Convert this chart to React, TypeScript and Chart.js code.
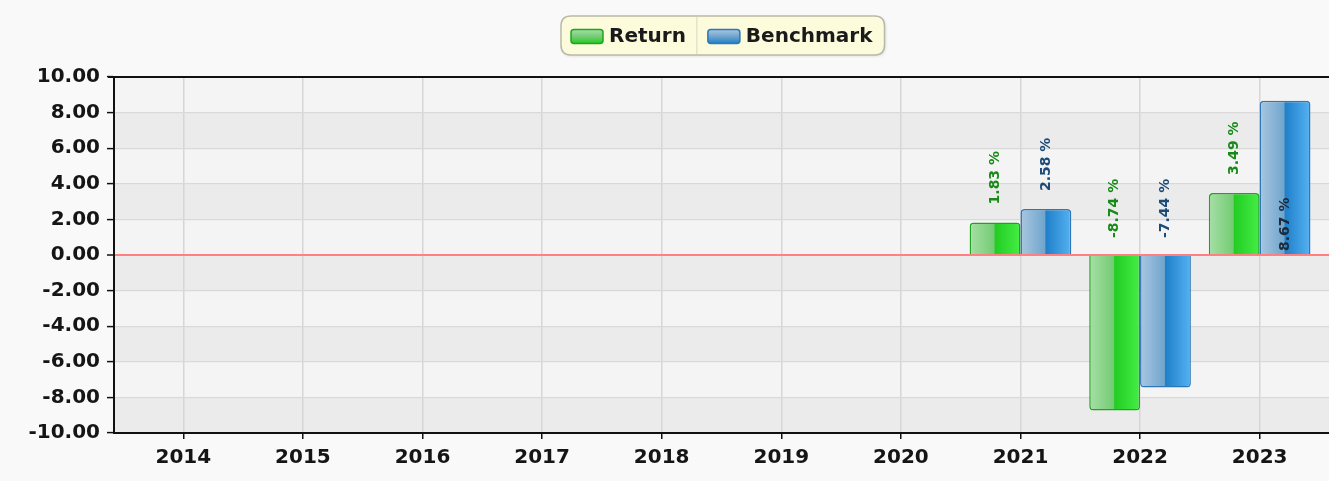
import React, { useEffect, useRef } from "react";
import { Chart, registerables } from "chart.js";

Chart.register(...registerables);

const years = [2014, 2015, 2016, 2017, 2018, 2019, 2020, 2021, 2022, 2023];
const returnValues: (number | null)[] = [null, null, null, null, null, null, null, 1.83, -8.74, 3.49];
const benchmarkValues: (number | null)[] = [null, null, null, null, null, null, null, 2.58, -7.44, 8.67];
const seriesNames = ["Return", "Benchmark"];
const yTicks = [-10, -8, -6, -4, -2, 0, 2, 4, 6, 8, 10];

const FONT = "'DejaVu Sans', Verdana, sans-serif";
const CAT_PCT = 0.85;

const palettes = [
  { stops: ["#a6dfa6", "#74cc74", "#22cc22", "#44ee44"], border: "#1ea51e", label: "#178a17", solid: "#44cc44" },
  { stops: ["#a9c7e0", "#70a5cd", "#1f7fc9", "#55b2f2"], border: "#2d76b8", label: "#1d4b78", solid: "#4a90d0" },
];

function barFill(ctx: any) {
  const pal = palettes[ctx.datasetIndex] || palettes[0];
  const chart = ctx.chart;
  const xs = chart.scales && chart.scales.x;
  if (ctx.type !== "data" || !ctx.parsed || !xs || xs.width == null) return pal.solid;
  const c = xs.getPixelForValue(ctx.parsed.x);
  const step = xs.getPixelForValue(ctx.parsed.x + 1) - c;
  const w = (step * CAT_PCT) / 2;
  const x0 = ctx.datasetIndex === 0 ? c - w : c;
  const g = chart.ctx.createLinearGradient(x0, 0, x0 + w, 0);
  g.addColorStop(0, pal.stops[0]);
  g.addColorStop(0.48, pal.stops[1]);
  g.addColorStop(0.5, pal.stops[2]);
  g.addColorStop(1, pal.stops[3]);
  return g;
}

function roundRect(c: CanvasRenderingContext2D, x: number, y: number, w: number, h: number, r: number) {
  c.beginPath();
  c.moveTo(x + r, y);
  c.lineTo(x + w - r, y);
  c.quadraticCurveTo(x + w, y, x + w, y + r);
  c.lineTo(x + w, y + h - r);
  c.quadraticCurveTo(x + w, y + h, x + w - r, y + h);
  c.lineTo(x + r, y + h);
  c.quadraticCurveTo(x, y + h, x, y + h - r);
  c.lineTo(x, y + r);
  c.quadraticCurveTo(x, y, x + r, y);
  c.closePath();
}

const decorPlugin = {
  id: "decor",
  beforeDraw(chart: any) {
    const c = chart.ctx;
    const { left, right } = chart.chartArea;
    const ys = chart.scales.y;
    c.save();
    c.fillStyle = "#f9f9f9";
    c.fillRect(0, 0, chart.width, chart.height);
    for (let i = 0; i < yTicks.length - 1; i++) {
      const a = ys.getPixelForValue(yTicks[i]);
      const b = ys.getPixelForValue(yTicks[i + 1]);
      c.fillStyle = i % 2 === 0 ? "#ebebeb" : "#f4f4f4";
      c.fillRect(left, b, right - left, a - b);
    }
    c.restore();
  },
  afterDatasetsDraw(chart: any) {
    const c = chart.ctx;
    const area = chart.chartArea;
    c.save();
    c.strokeStyle = "#111";
    c.lineWidth = 2;
    c.beginPath();
    c.moveTo(area.left - 6, area.top);
    c.lineTo(area.right, area.top);
    c.stroke();
    c.font = `bold 14px ${FONT}`;
    chart.data.datasets.forEach((ds: any, di: number) => {
      const meta = chart.getDatasetMeta(di);
      meta.data.forEach((el: any, i: number) => {
        const v = ds.data[i].y;
        if (v == null) return;
        const text = `${v.toFixed(2)} %`;
        const tw = c.measureText(text).width;
        const topPx = Math.min(el.y, el.base);
        let start = topPx - 18;
        let color = palettes[di].label;
        if (start - tw < area.top) {
          start = el.base - 3;
          color = "#1c2a3a";
        }
        c.save();
        c.translate(el.x, start);
        c.rotate(-Math.PI / 2);
        c.fillStyle = color;
        c.textAlign = "left";
        c.textBaseline = "middle";
        c.fillText(text, 0, 0);
        c.restore();
      });
    });
    c.restore();
  },
  afterDraw(chart: any) {
    const c = chart.ctx;
    c.save();
    c.font = `bold 20px ${FONT}`;
    const boxX = 561;
    const boxY = 16;
    const boxH = 39;
    const swW = 32;
    const swH = 14;
    const items: { x: number; w: number }[] = [];
    let x = boxX + 10;
    seriesNames.forEach((name, i) => {
      const tw = c.measureText(name).width;
      const w = swW + 6 + tw;
      items.push({ x, w });
      x += w + (i < seriesNames.length - 1 ? 22 : 12);
    });
    const boxW = x - boxX;
    c.shadowColor = "rgba(0,0,0,0.15)";
    c.shadowBlur = 3;
    c.shadowOffsetX = 1;
    c.shadowOffsetY = 1;
    roundRect(c, boxX, boxY, boxW, boxH, 10);
    c.fillStyle = "#fcfcdc";
    c.fill();
    c.shadowColor = "transparent";
    c.lineWidth = 1.5;
    c.strokeStyle = "#b9b9a8";
    c.stroke();
    seriesNames.forEach((name, i) => {
      const it = items[i];
      const pal = palettes[i];
      const sy = boxY + boxH / 2 - swH / 2 + 1;
      const g = c.createLinearGradient(0, sy, 0, sy + swH);
      g.addColorStop(0, pal.stops[0]);
      g.addColorStop(0.5, pal.stops[1]);
      g.addColorStop(1, pal.stops[2]);
      roundRect(c, it.x, sy, swW, swH, 3);
      c.fillStyle = g;
      c.fill();
      c.lineWidth = 1.5;
      c.strokeStyle = pal.border;
      c.stroke();
      c.fillStyle = "#1a1a1a";
      c.textAlign = "left";
      c.textBaseline = "middle";
      c.fillText(name, it.x + swW + 6, boxY + boxH / 2 + 1);
      if (i < seriesNames.length - 1) {
        const sx = it.x + it.w + 11;
        c.strokeStyle = "#d6d6c0";
        c.lineWidth = 1;
        c.beginPath();
        c.moveTo(sx, boxY + 1);
        c.lineTo(sx, boxY + boxH - 1);
        c.stroke();
      }
    });
    c.restore();
  },
};

export default function App() {
  const ref = useRef<HTMLCanvasElement | null>(null);

  useEffect(() => {
    if (!ref.current) return;
    const mk = (vals: (number | null)[]) => years.map((yr, i) => ({ x: yr, y: vals[i] }));
    const chart = new Chart(ref.current, {
      type: "bar",
      data: {
        datasets: [
          {
            label: seriesNames[0],
            data: mk(returnValues),
            backgroundColor: barFill,
            borderColor: palettes[0].border,
            borderWidth: 1.5,
            borderRadius: 4,
            categoryPercentage: CAT_PCT,
            barPercentage: 1,
          },
          {
            label: seriesNames[1],
            data: mk(benchmarkValues),
            backgroundColor: barFill,
            borderColor: palettes[1].border,
            borderWidth: 1.5,
            borderRadius: 4,
            categoryPercentage: CAT_PCT,
            barPercentage: 1,
          },
        ] as any,
      },
      options: {
        responsive: false,
        animation: false,
        layout: { padding: { top: 77, left: 0, right: 0, bottom: 0 } },
        plugins: {
          legend: { display: false },
          tooltip: { enabled: false },
        },
        scales: {
          x: {
            type: "linear",
            min: 2013.42,
            max: 2023.58,
            offset: false,
            afterBuildTicks: (axis: any) => {
              axis.ticks = years.map((v) => ({ value: v }));
            },
            afterFit: (s: any) => {
              s.height = 48;
            },
            ticks: {
              autoSkip: false,
              maxRotation: 0,
              padding: 7,
              color: "#151515",
              font: { family: FONT, size: 20, weight: "bold" },
              callback: (v: any) => String(v),
            },
            grid: {
              offset: false,
              color: "#d6d6d6",
              tickColor: "#111",
              tickLength: 6,
              lineWidth: 1.5,
            },
            border: { color: "#111", width: 2 },
          },
          y: {
            min: -10,
            max: 10,
            afterBuildTicks: (axis: any) => {
              axis.ticks = yTicks.map((v) => ({ value: v }));
            },
            afterFit: (s: any) => {
              s.width = 114;
            },
            ticks: {
              padding: 7,
              color: "#151515",
              font: { family: FONT, size: 20, weight: "bold" },
              callback: (v: any) => Number(v).toFixed(2),
            },
            grid: {
              color: (c: any) => (c.tick && c.tick.value === 0 ? "#ff8080" : "#d9d9d9"),
              lineWidth: (c: any) => (c.tick && c.tick.value === 0 ? 2 : 1.2),
              tickColor: "#111",
              tickLength: 7,
              tickWidth: 1.5,
            },
            border: { color: "#111", width: 2 },
          },
        },
      } as any,
      plugins: [decorPlugin],
    });
    return () => chart.destroy();
  }, []);

  return (
    <div style={{ position: "absolute", left: 0, top: 0, width: 1329, height: 481 }}>
      <canvas ref={ref} width={1329} height={481} />
    </div>
  );
}
